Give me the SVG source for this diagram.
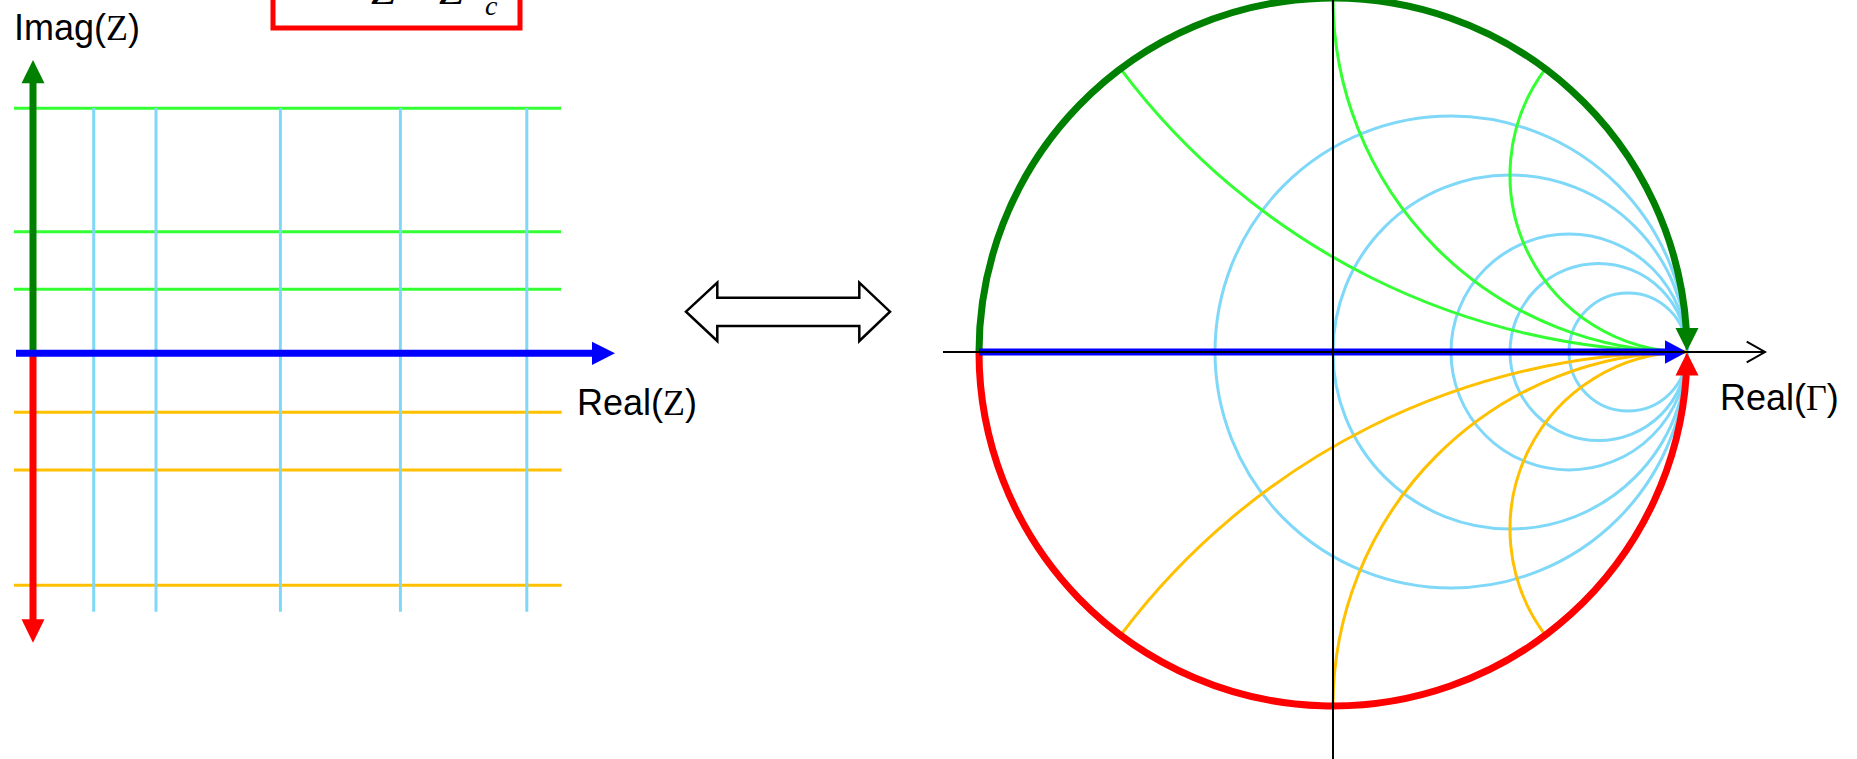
<svg xmlns="http://www.w3.org/2000/svg" width="1857" height="759" viewBox="0 0 1857 759">
<style>
.res{fill:none;stroke:#80d8f8;stroke-width:3}
.reac{fill:none;stroke:#33ff33;stroke-width:3}
.neg{fill:none;stroke:#ffc000;stroke-width:3}
.lbl{font-family:"Liberation Sans",Arial,sans-serif;font-size:36px;fill:#000}
.sym{font-family:"Liberation Serif","Times New Roman",serif}
.ax{stroke:#000;stroke-width:2;fill:none}
</style>
<rect width="1857" height="759" fill="#fff"/>

<g id="formula">
  <rect x="273" y="-20" width="247" height="48" fill="none" stroke="#ff0000" stroke-width="5"/>
  <text font-family="Liberation Serif,'Times New Roman',serif" font-size="44" font-style="italic" y="4" fill="#000"><tspan x="371">Z</tspan><tspan x="410" font-style="normal">+</tspan><tspan x="439">Z</tspan><tspan x="485" y="15" font-size="28">c</tspan></text>
</g>

<g id="cartesian">
  <g id="cart-reactance-pos">
    <line class="reac" x1="14" y1="108.3" x2="561" y2="108.3"/>
    <line class="reac" x1="14" y1="231.7" x2="561" y2="231.7"/>
    <line class="reac" x1="14" y1="289.3" x2="561" y2="289.3"/>
  </g>
  <g id="cart-reactance-neg">
    <line class="neg" x1="14" y1="412.3" x2="561.7" y2="412.3"/>
    <line class="neg" x1="14" y1="470" x2="561.7" y2="470"/>
    <line class="neg" x1="14" y1="585.3" x2="561.7" y2="585.3"/>
  </g>
  <g id="cart-resistance">
    <line class="res" x1="93.7" y1="108" x2="93.7" y2="611.7"/>
    <line class="res" x1="156" y1="108" x2="156" y2="611.7"/>
    <line class="res" x1="280.4" y1="108" x2="280.4" y2="611.7"/>
    <line class="res" x1="400.4" y1="108" x2="400.4" y2="611.7"/>
    <line class="res" x1="526.8" y1="108" x2="526.8" y2="611.7"/>
  </g>
  <g id="cart-imag-axis">
    <line x1="33" y1="353" x2="33" y2="82" stroke="#008000" stroke-width="7"/>
    <polygon points="21.5,83.3 33,60 44.5,83.3" fill="#008000"/>
    <line x1="33" y1="353" x2="33" y2="620" stroke="#ff0000" stroke-width="7"/>
    <polygon points="21.5,619.3 33,642.7 44.5,619.3" fill="#ff0000"/>
  </g>
  <g id="cart-real-axis">
    <line x1="16" y1="353.3" x2="593" y2="353.3" stroke="#0000ff" stroke-width="7"/>
    <polygon points="592,341.7 615,353.3 592,365" fill="#0000ff"/>
  </g>
  <text id="label-imag-z" class="lbl" x="14" y="40">Imag(<tspan class="sym">Z</tspan>)</text>
  <text id="label-real-z" class="lbl" x="577" y="415">Real(<tspan class="sym">Z</tspan>)</text>
</g>

<g id="equivalence">
  <polygon points="686,311.7 717.3,282.7 717.3,297.7 859.3,297.7 859.3,282.7 890,311.7 859.3,341 859.3,326 717.3,326 717.3,341" fill="#fff" stroke="#000" stroke-width="2.5" stroke-linejoin="miter"/>
</g>

<g id="smith">
  <g id="smith-resistance">
    <circle class="res" cx="1451" cy="352" r="236"/>
    <circle class="res" cx="1510" cy="352" r="177"/>
    <circle class="res" cx="1569" cy="352" r="118"/>
    <circle class="res" cx="1598.5" cy="352" r="88.5"/>
    <circle class="res" cx="1628" cy="352" r="59"/>
  </g>
  <g id="smith-reactance-pos">
    <path class="reac" d="M 1120.6 68.8 A 708 708 0 0 0 1687 352"/>
    <path class="reac" d="M 1333 -2 A 354 354 0 0 0 1687 352"/>
    <path class="reac" d="M 1545.4 68.8 A 177 177 0 0 0 1687 352"/>
  </g>
  <g id="smith-reactance-neg">
    <path class="neg" d="M 1120.6 635.2 A 708 708 0 0 1 1687 352"/>
    <path class="neg" d="M 1333 706 A 354 354 0 0 1 1687 352"/>
    <path class="neg" d="M 1545.4 635.2 A 177 177 0 0 1 1687 352"/>
  </g>
  <g id="smith-boundary">
    <path d="M 979 352 A 354 354 0 0 1 1686.25 329" fill="none" stroke="#008000" stroke-width="7"/>
    <polygon points="1675.5,328 1698.5,328 1687,351" fill="#008000"/>
    <path d="M 979 352 A 354 354 0 0 0 1686.25 375" fill="none" stroke="#ff0000" stroke-width="7"/>
    <polygon points="1675.5,375.5 1698.5,375.5 1687,352.5" fill="#ff0000"/>
  </g>
  <g id="smith-real-arrow">
    <line x1="979" y1="352" x2="1666" y2="352" stroke="#0000ff" stroke-width="7"/>
    <polygon points="1665,340.3 1687,352 1665,363.7" fill="#0000ff"/>
  </g>
  <g id="smith-axes">
    <line class="ax" x1="943" y1="352" x2="1765" y2="352"/>
    <polyline class="ax" points="1746.7,341.7 1765,352 1746.7,362.3"/>
    <line class="ax" x1="1333" y1="0" x2="1333" y2="759"/>
  </g>
  <text id="label-real-gamma" class="lbl" x="1720" y="410">Real(<tspan class="sym">Γ</tspan>)</text>
</g>
</svg>
